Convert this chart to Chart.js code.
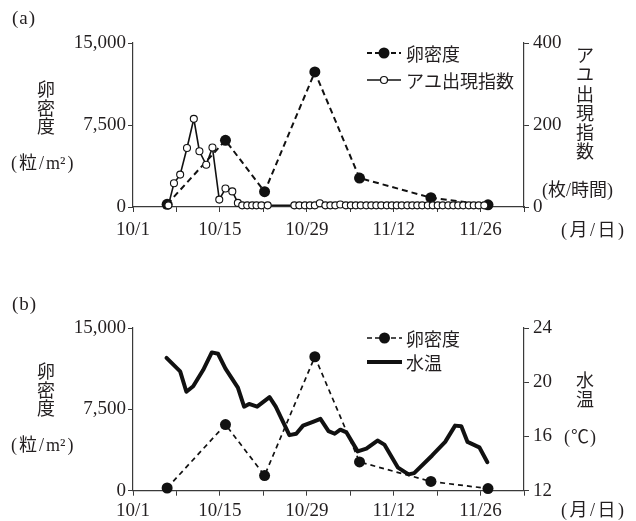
<!DOCTYPE html>
<html><head><meta charset="utf-8">
<script src="https://cdn.jsdelivr.net/npm/chart.js@4"></script>
<style>
html,body{margin:0;padding:0;background:#fff}
body{width:636px;height:521px;overflow:hidden;position:relative;color:#231f20;font-family:"Liberation Serif","Noto Sans CJK JP",serif}
.box{position:absolute;left:0;width:636px}
.t{position:absolute;font-size:18px;line-height:18px;white-space:nowrap}
.v{position:absolute;font-size:18px;width:24px;text-align:center;font-family:"Noto Sans CJK JP"}
.ns{letter-spacing:0}
</style></head><body>
<div class="box" style="top:0;height:260px"><canvas id="ca"></canvas></div>
<div class="box" style="top:280px;height:241px"><canvas id="cb"></canvas></div>

<div class="t" style="left:12px;top:9px;font-size:19px;letter-spacing:1px">(a)</div>
<div class="v" style="left:34px;top:79px;line-height:18.5px">卵<br>密<br>度</div>
<div class="t" style="left:11px;top:154px;letter-spacing:2px">(粒/<span class="ns">m</span>²)</div>
<div class="v" style="left:573px;top:45px;line-height:19.3px">ア<br>ユ<br>出<br>現<br>指<br>数</div>
<div class="t" style="left:542px;top:181px">(枚/時間)</div>
<div class="t" style="left:561px;top:221px;letter-spacing:2.5px">(月/日)</div>

<div class="t" style="left:12px;top:295px;font-size:19px;letter-spacing:1px">(b)</div>
<div class="v" style="left:34px;top:361px;line-height:18.5px">卵<br>密<br>度</div>
<div class="t" style="left:11px;top:436px;letter-spacing:2px">(粒/<span class="ns">m</span>²)</div>
<div class="v" style="left:573px;top:370px;line-height:18.5px">水<br>温</div>
<div class="t" style="left:564px;top:428px;letter-spacing:1px">(℃)</div>
<div class="t" style="left:561px;top:501px;letter-spacing:2.5px">(月/日)</div>

<script>
// ---- data ----
const dayLabels = ['10/1', '10/15', '10/29', '11/12', '11/26'];
const labelDays = [0, 14, 28, 42, 56];
const densityTicks = [0, 7500, 15000];
const densityTickLabels = ['0', '7,500', '15,000'];

const eggDays = [5.5, 14.9, 21.2, 29.3, 36.5, 48.0, 57.2];
const eggDensity = [250, 6100, 1400, 12350, 2650, 850, 200];

const ayuDays = [5.7, 6.6, 7.6, 8.7, 9.8, 10.7, 11.8, 12.8, 13.9, 14.9, 16.0, 16.9,
  17.6, 18.4, 19.2, 19.9, 20.7, 21.7,
  26.0, 26.8, 27.7, 28.5, 29.3, 30.1, 31.0, 31.8, 32.6, 33.4, 34.3, 35.1, 35.9, 36.7,
  37.6, 38.4, 39.2, 40.0, 40.9, 41.7, 42.5, 43.3, 44.2, 45.0, 45.8, 46.6, 47.5, 48.3,
  49.1, 49.9, 50.8, 51.6, 52.4, 53.2, 54.1, 54.9, 55.7, 56.6];
const ayuIndex = [4, 58, 79, 144, 215, 136, 103, 145, 18, 45, 38, 10,
  4, 4, 4, 4, 4, 4,
  4, 4, 4, 4, 4, 9, 4, 4, 4, 6, 4, 4, 4, 4,
  4, 4, 4, 4, 4, 4, 4, 4, 4, 4, 4, 4, 4, 4,
  4, 4, 4, 4, 4, 4, 4, 4, 4, 4];
const ayuTicks = [0, 200, 400];

const tempDays = [5.4, 7.6, 8.6, 9.7, 11.3, 12.7, 13.7, 14.9, 16.9, 17.9, 18.7, 20.0,
  22.0, 23.0, 25.2, 26.3, 27.4, 29.1, 30.2, 31.5, 32.5, 33.4, 34.4, 36.2, 37.6, 39.4,
  40.5, 42.7, 44.4, 45.3, 48.2, 50.3, 51.9, 52.9, 53.9, 55.8, 57.1];
const waterTemp = [21.8, 20.8, 19.3, 19.7, 20.9, 22.2, 22.1, 21.0, 19.6, 18.2, 18.4, 18.2,
  18.9, 18.2, 16.1, 16.2, 16.8, 17.1, 17.3, 16.4, 16.2, 16.5, 16.3, 14.9, 15.1, 15.7,
  15.4, 13.7, 13.2, 13.3, 14.6, 15.6, 16.8, 16.75, 15.6, 15.2, 14.1];
const tempTicks = [12, 16, 20, 24];

// ---- helpers ----
const pts = (xs, ys) => xs.map((d, i) => ({ x: d, y: ys[i] }));
const INK = '#111';
const TXT = '#231f20';
const AX = '#3a3a3a';
const tickFont = { family: 'Liberation Serif', size: 19 };

const legendPlugin = {
  id: 'symLegend',
  afterDraw(chart, args, o) {
    if (!o || !o.items) return;
    const ctx = chart.ctx;
    ctx.save();
    o.items.forEach(it => {
      const label = chart.data.datasets[it.ds].label;
      ctx.strokeStyle = INK;
      ctx.lineWidth = it.lw;
      ctx.lineCap = 'butt';
      ctx.setLineDash(it.dash || []);
      ctx.beginPath(); ctx.moveTo(o.x0, it.y); ctx.lineTo(o.x1, it.y); ctx.stroke();
      ctx.setLineDash([]);
      if (it.point) {
        ctx.beginPath();
        ctx.arc((o.x0 + o.x1) / 2, it.y, it.r, 0, Math.PI * 2);
        ctx.fillStyle = it.point === 'filled' ? INK : '#fff';
        ctx.fill();
        if (it.point === 'open') { ctx.lineWidth = 1.2; ctx.stroke(); }
      }
      ctx.fillStyle = TXT;
      ctx.font = '18px "Noto Sans CJK JP"';
      ctx.textBaseline = 'middle';
      ctx.fillText(label, o.tx, it.y + 1);
    });
    ctx.restore();
  }
};

function xScale(h, pad) {
  return {
    type: 'linear', min: 0, max: 63, position: 'bottom',
    afterFit(s) { s.height = h; },
    ticks: {
      stepSize: 7, autoSkip: false, maxRotation: 0, padding: pad, color: TXT, font: tickFont,
      callback(v) { const i = labelDays.indexOf(v); return i >= 0 ? dayLabels[i] : ''; }
    },
    grid: { drawOnChartArea: false, drawTicks: true, tickLength: 5, color: AX, lineWidth: 1 },
    border: { display: true, color: AX, width: 1.2 }
  };
}
function leftScale() {
  return {
    type: 'linear', position: 'left', min: 0, max: 15000,
    afterFit(s) { s.width = 133; },
    ticks: {
      stepSize: 7500, padding: 2, color: TXT, font: tickFont,
      callback(v) { const i = densityTicks.indexOf(v); return i >= 0 ? densityTickLabels[i] : ''; }
    },
    grid: { drawOnChartArea: false, drawTicks: true, tickLength: 5, color: AX, lineWidth: 1 },
    border: { display: true, color: AX, width: 1.2 }
  };
}
function rightScale(min, max, step, list) {
  return {
    type: 'linear', position: 'right', min: min, max: max,
    afterFit(s) { s.width = 112; },
    ticks: {
      stepSize: step, padding: 4, color: TXT, font: tickFont,
      callback(v) { return list.indexOf(v) >= 0 ? String(v) : ''; }
    },
    grid: { drawOnChartArea: false, drawTicks: true, tickLength: 5, color: AX, lineWidth: 1 },
    border: { display: true, color: AX, width: 1.2 }
  };
}

Chart.register(legendPlugin);

new Chart(document.getElementById('ca'), {
  type: 'line',
  data: {
    datasets: [
      {
        label: 'アユ出現指数', data: pts(ayuDays, ayuIndex), yAxisID: 'y1', order: 0,
        borderColor: INK, borderWidth: 1.6, pointRadius: 3.5, pointBorderWidth: 1.1,
        pointBackgroundColor: '#fff', pointBorderColor: INK, tension: 0, clip: false
      },
      {
        label: '卵密度', data: pts(eggDays, eggDensity), yAxisID: 'y', order: 1,
        borderColor: INK, borderWidth: 2, borderDash: [6, 4], pointRadius: 5.5,
        pointBorderWidth: 0, pointBackgroundColor: INK, tension: 0, clip: false
      }
    ]
  },
  options: {
    responsive: true, maintainAspectRatio: false, animation: false, devicePixelRatio: 1,
    layout: { padding: { top: 43, left: 0, right: 0, bottom: 0 } },
    scales: { x: xScale(53, 7), y: leftScale(), y1: rightScale(0, 400, 200, ayuTicks) },
    plugins: {
      legend: { display: false }, tooltip: { enabled: false },
      symLegend: {
        x0: 367, x1: 401, tx: 406,
        items: [
          { ds: 1, y: 53, lw: 2, dash: [5, 3], point: 'filled', r: 5.5 },
          { ds: 0, y: 80, lw: 1.6, point: 'open', r: 3.5 }
        ]
      }
    }
  }
});

new Chart(document.getElementById('cb'), {
  type: 'line',
  data: {
    datasets: [
      {
        label: '卵密度', data: pts(eggDays, eggDensity), yAxisID: 'y', order: 0,
        borderColor: INK, borderWidth: 1.7, borderDash: [5, 4], pointRadius: 5.5,
        pointBorderWidth: 0, pointBackgroundColor: INK, tension: 0, clip: false
      },
      {
        label: '水温', data: pts(tempDays, waterTemp), yAxisID: 'y1', order: 1,
        borderColor: INK, borderWidth: 4, pointRadius: 0, tension: 0,
        borderJoinStyle: 'round', borderCapStyle: 'round', clip: false
      }
    ]
  },
  options: {
    responsive: true, maintainAspectRatio: false, animation: false, devicePixelRatio: 1,
    layout: { padding: { top: 48, left: 0, right: 0, bottom: 0 } },
    scales: { x: xScale(30.3, 4), y: leftScale(), y1: rightScale(12, 24, 4, tempTicks) },
    plugins: {
      legend: { display: false }, tooltip: { enabled: false },
      symLegend: {
        x0: 367, x1: 402, tx: 406,
        items: [
          { ds: 0, y: 58, lw: 1.7, dash: [5, 3], point: 'filled', r: 5.5 },
          { ds: 1, y: 82, lw: 4 }
        ]
      }
    }
  }
});
</script>
</body></html>
